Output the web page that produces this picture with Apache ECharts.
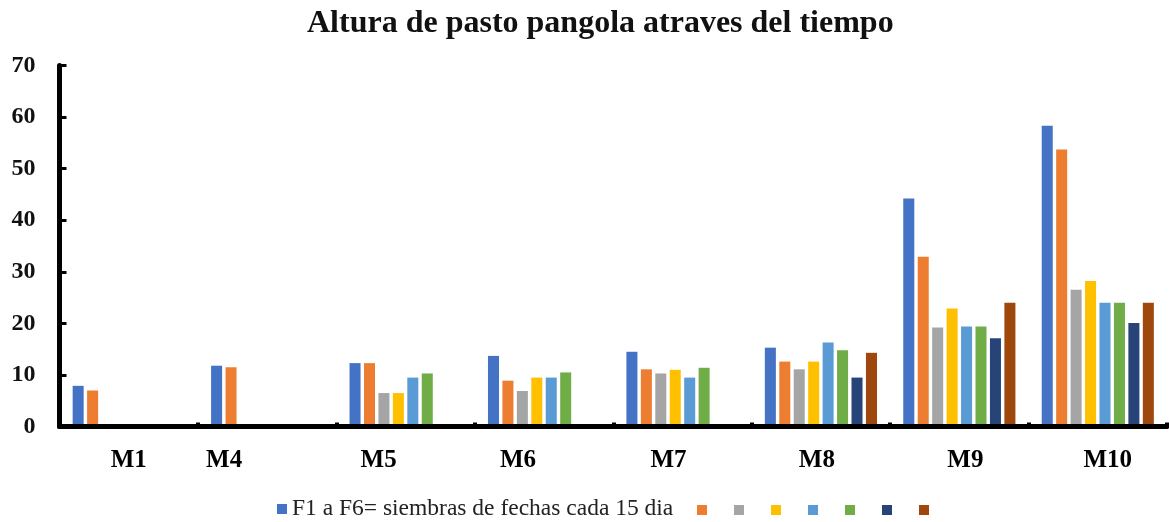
<!DOCTYPE html>
<html>
<head>
<meta charset="utf-8">
<script src="https://cdn.jsdelivr.net/npm/echarts@6/dist/echarts.min.js"></script>
<style>
  html, body { margin: 0; padding: 0; background: #fff; }
  #chart { width: 1169px; height: 522px; }
</style>
</head>
<body>
<div id="chart"></div>
<script>
// ---- data ----
const categories = ['M1', 'M4', 'M5', 'M6', 'M7', 'M8', 'M9', 'M10'];
const seriesNames = ['F1 a F6= siembras de fechas cada 15 dia', 'F2', 'F3', 'F4', 'F5', 'F6', 'F7', 'F8'];
const f1 = [7.9, 11.8, 12.3, 13.7, 14.5, 15.3, 44.2, 58.3];
const f2 = [7.0, 11.5, 12.3, 8.9, 11.1, 12.6, 32.9, 53.7];
const f3 = [null, null, 6.5, 6.9, 10.3, 11.1, 19.2, 26.5];
const f4 = [null, null, 6.5, 9.5, 11.0, 12.6, 22.9, 28.2];
const f5 = [null, null, 9.5, 9.5, 9.5, 16.3, 19.4, 24.0];
const f6 = [null, null, 10.3, 10.5, 11.4, 14.8, 19.4, 24.0];
const f7 = [null, null, null, null, null, 9.5, 17.1, 20.1];
const f8 = [null, null, null, null, null, 14.3, 24.0, 24.0];
const yTicks = [0, 10, 20, 30, 40, 50, 60, 70];

// ---- styles ----
const colors = ['#4472C4', '#ED7D31', '#A5A5A5', '#FFC000', '#5B9BD5', '#70AD47', '#264478', '#9E480E'];
const FONT = '"Liberation Serif", "Times New Roman", serif';
// horizontal shift of each category label (px) relative to category centre
const labelShift = [0, -43, -27, -26, -14, -4, 6, 10];

const allSeries = [f1, f2, f3, f4, f5, f6, f7, f8];

const rich = {};
labelShift.forEach((d, i) => {
  rich['s' + i] = {
    fontFamily: FONT, fontWeight: 'bold', fontSize: 25, color: '#000',
    padding: [0, d < 0 ? -2 * d : 0, 0, d > 0 ? 2 * d : 0]
  };
});

const legendBase = {
  icon: 'rect',
  itemWidth: 10,
  itemHeight: 10,
  textStyle: { fontFamily: FONT, fontSize: 23.5, color: '#222' }
};

const chart = echarts.init(document.getElementById('chart'), null, { renderer: 'canvas' });
chart.setOption({
  animation: false,
  color: colors,
  title: {
    text: 'Altura de pasto pangola atraves del tiempo',
    left: 302,
    top: 3,
    textStyle: { fontFamily: FONT, fontWeight: 'bold', fontSize: 32, color: '#111' }
  },
  legend: [
    Object.assign({}, legendBase, {
      left: 272, top: 492, itemGap: 20,
      data: [seriesNames[0]]
    }),
    Object.assign({}, legendBase, {
      left: 692, top: 500, itemGap: 27,
      data: seriesNames.slice(1),
      formatter: () => ''
    })
  ],
  grid: { left: 59.5, right: 2, top: 65.4, bottom: 95.4, containLabel: false },
  xAxis: {
    type: 'category',
    data: categories,
    z: 5,
    axisLine: { lineStyle: { color: '#000', width: 5 } },
    axisTick: { show: true, inside: true, length: 4, lineStyle: { color: '#000', width: 4 } },
    axisLabel: {
      margin: 21,
      formatter: (v, i) => '{s' + i + '|' + v + '}',
      rich: rich,
      fontFamily: FONT, fontWeight: 'bold', fontSize: 25, color: '#000'
    },
    splitLine: { show: false }
  },
  yAxis: {
    type: 'value',
    min: yTicks[0],
    max: yTicks[yTicks.length - 1],
    interval: 10,
    z: 5,
    axisLine: { show: true, lineStyle: { color: '#000', width: 5 } },
    axisTick: { show: true, inside: true, length: 7, lineStyle: { color: '#000', width: 3 } },
    axisLabel: { margin: 24, fontFamily: FONT, fontWeight: 'bold', fontSize: 24, color: '#111' },
    splitLine: { show: false }
  },
  series: allSeries.map((d, i) => ({
    name: seriesNames[i],
    type: 'bar',
    data: d,
    barGap: '31%',
    barCategoryGap: '19%'
  }))
});
</script>
</body>
</html>
